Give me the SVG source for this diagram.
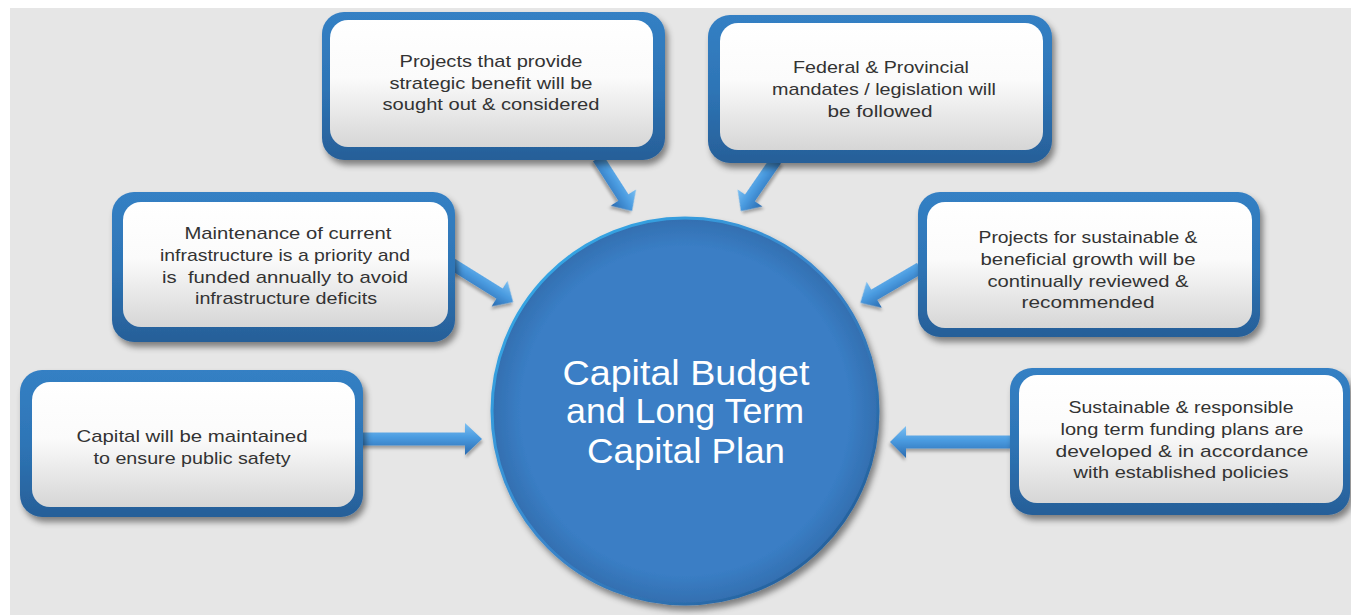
<svg xmlns="http://www.w3.org/2000/svg" width="1351" height="615" viewBox="0 0 1351 615">
  <defs>
    <linearGradient id="outerGrad" x1="0" y1="0" x2="0" y2="1">
      <stop offset="0" stop-color="#3480c4"/>
      <stop offset="0.5" stop-color="#2e75b6"/>
      <stop offset="1" stop-color="#275f98"/>
    </linearGradient>
    <linearGradient id="innerGrad" x1="0" y1="0" x2="0" y2="1">
      <stop offset="0" stop-color="#ffffff"/>
      <stop offset="0.45" stop-color="#fbfbfb"/>
      <stop offset="1" stop-color="#d6d6d6"/>
    </linearGradient>
    <linearGradient id="arrowGrad" x1="0" y1="0" x2="0" y2="1">
      <stop offset="0" stop-color="#7cc0f2"/>
      <stop offset="0.45" stop-color="#4a9be0"/>
      <stop offset="1" stop-color="#2a6bb0"/>
    </linearGradient>
    <linearGradient id="rimGrad" x1="0" y1="0" x2="1" y2="1">
      <stop offset="0" stop-color="#32b0ec"/>
      <stop offset="0.5" stop-color="#3a86cc"/>
      <stop offset="1" stop-color="#1d548c"/>
    </linearGradient>
    <radialGradient id="circleGrad" cx="0.5" cy="0.5" r="0.5">
      <stop offset="0.85" stop-color="#3a7ec5"/>
      <stop offset="1" stop-color="#336fb0"/>
    </radialGradient>
    <filter id="shadow" x="-10%" y="-10%" width="125%" height="130%">
      <feDropShadow dx="3" dy="5" stdDeviation="3" flood-color="#000" flood-opacity="0.45"/>
    </filter>
    <filter id="ashadow" x="-20%" y="-50%" width="140%" height="200%">
      <feDropShadow dx="1" dy="3" stdDeviation="1.5" flood-color="#000" flood-opacity="0.3"/>
    </filter>
  </defs>
  <style>
    .outer { fill: url(#outerGrad); filter: url(#shadow); }
    .inner { fill: url(#innerGrad); }
    .label { font-family: "Liberation Sans", Arial, sans-serif; font-size: 17px; fill: #333333; text-anchor: middle; }
    .center { font-family: "Liberation Sans", Arial, sans-serif; font-size: 35px; fill: #ffffff; text-anchor: middle; }
    .arrow { fill: url(#arrowGrad); filter: url(#ashadow); }
  </style>

  <rect x="0" y="0" width="1351" height="615" fill="#ffffff"/>
  <rect x="10" y="8" width="1341" height="607" fill="#e6e6e6"/>

  <g id="connectors">
    <!-- box1 -> circle -->
    <path class="arrow" transform="translate(598,158) rotate(57.3)" d="M0,-6 L47,-6 L47,-15 L63,0 L47,15 L47,6 L0,6 Z"/>
    <!-- box2 -> circle -->
    <path class="arrow" transform="translate(776,160) scale(-1,1) rotate(55.5)" d="M0,-6 L46,-6 L46,-15 L62,0 L46,15 L46,6 L0,6 Z"/>
    <!-- box3 -> circle -->
    <path class="arrow" transform="translate(452,264) rotate(31.9)" d="M0,-6 L56,-6 L56,-15 L72,0 L56,15 L56,6 L0,6 Z"/>
    <!-- box5 -> circle -->
    <path class="arrow" transform="translate(920,268) scale(-1,1) rotate(30.3)" d="M0,-6 L53,-6 L53,-15 L69,0 L53,15 L53,6 L0,6 Z"/>
    <!-- box4 -> circle -->
    <path class="arrow" transform="translate(355,439)" d="M0,-6.5 L110,-6.5 L110,-16 L127,0 L110,16 L110,6.5 L0,6.5 Z"/>
    <!-- box6 -> circle -->
    <path class="arrow" transform="translate(1012,442) scale(-1,1)" d="M0,-6.5 L106,-6.5 L106,-16 L122,0 L106,16 L106,6.5 L0,6.5 Z"/>
  </g>

  <g id="node-center">
    <circle cx="685" cy="411" r="193" fill="url(#circleGrad)" stroke="url(#rimGrad)" stroke-width="3" filter="url(#shadow)"/>
    <text class="center" x="686" y="385" textLength="247" lengthAdjust="spacingAndGlyphs">Capital Budget</text>
    <text class="center" x="685" y="423" textLength="238" lengthAdjust="spacingAndGlyphs">and Long Term</text>
    <text class="center" x="686" y="463" textLength="198" lengthAdjust="spacingAndGlyphs">Capital Plan</text>
  </g>

  <g id="node-strategic">
    <rect class="outer" x="322" y="12" width="343" height="148" rx="22"/>
    <rect class="inner" x="330" y="20" width="323" height="127" rx="18"/>
    <text class="label" x="491" y="67" textLength="183" lengthAdjust="spacingAndGlyphs">Projects that provide</text>
    <text class="label" x="491" y="89" textLength="203" lengthAdjust="spacingAndGlyphs">strategic benefit will be</text>
    <text class="label" x="491" y="110" textLength="217" lengthAdjust="spacingAndGlyphs">sought out &amp; considered</text>
  </g>

  <g id="node-mandates">
    <rect class="outer" x="708" y="15" width="344" height="148" rx="22"/>
    <rect class="inner" x="720" y="23" width="323" height="127" rx="18"/>
    <text class="label" x="881" y="73" textLength="176" lengthAdjust="spacingAndGlyphs">Federal &amp; Provincial</text>
    <text class="label" x="884" y="95" textLength="224" lengthAdjust="spacingAndGlyphs">mandates / legislation will</text>
    <text class="label" x="880" y="117" textLength="105" lengthAdjust="spacingAndGlyphs">be followed</text>
  </g>

  <g id="node-maintenance">
    <rect class="outer" x="112" y="192" width="343" height="150" rx="22"/>
    <rect class="inner" x="123" y="202" width="325" height="125" rx="18"/>
    <text class="label" x="288" y="239" textLength="207" lengthAdjust="spacingAndGlyphs">Maintenance of current</text>
    <text class="label" x="285" y="261" textLength="250" lengthAdjust="spacingAndGlyphs">infrastructure is a priority and</text>
    <text class="label" x="285" y="283" textLength="246" lengthAdjust="spacingAndGlyphs" xml:space="preserve">is  funded annually to avoid</text>
    <text class="label" x="286" y="304" textLength="182" lengthAdjust="spacingAndGlyphs">infrastructure deficits</text>
  </g>

  <g id="node-safety">
    <rect class="outer" x="20" y="370" width="343" height="147" rx="22"/>
    <rect class="inner" x="32" y="382" width="323" height="125" rx="18"/>
    <text class="label" x="192" y="442" textLength="231" lengthAdjust="spacingAndGlyphs">Capital will be maintained</text>
    <text class="label" x="192" y="464" textLength="197" lengthAdjust="spacingAndGlyphs">to ensure public safety</text>
  </g>

  <g id="node-growth">
    <rect class="outer" x="918" y="192" width="342" height="145" rx="22"/>
    <rect class="inner" x="927" y="202" width="325" height="126" rx="18"/>
    <text class="label" x="1088" y="243" textLength="219" lengthAdjust="spacingAndGlyphs">Projects for sustainable &amp;</text>
    <text class="label" x="1088" y="265" textLength="215" lengthAdjust="spacingAndGlyphs">beneficial growth will be</text>
    <text class="label" x="1088" y="287" textLength="201" lengthAdjust="spacingAndGlyphs">continually reviewed &amp;</text>
    <text class="label" x="1088" y="308" textLength="133" lengthAdjust="spacingAndGlyphs">recommended</text>
  </g>

  <g id="node-funding">
    <rect class="outer" x="1010" y="368" width="340" height="147" rx="22"/>
    <rect class="inner" x="1019" y="375" width="324" height="128" rx="18"/>
    <text class="label" x="1181" y="413" textLength="225" lengthAdjust="spacingAndGlyphs">Sustainable &amp; responsible</text>
    <text class="label" x="1182" y="435" textLength="243" lengthAdjust="spacingAndGlyphs">long term funding plans are</text>
    <text class="label" x="1182" y="457" textLength="253" lengthAdjust="spacingAndGlyphs">developed &amp; in accordance</text>
    <text class="label" x="1181" y="478" textLength="215" lengthAdjust="spacingAndGlyphs">with established policies</text>
  </g>
</svg>
